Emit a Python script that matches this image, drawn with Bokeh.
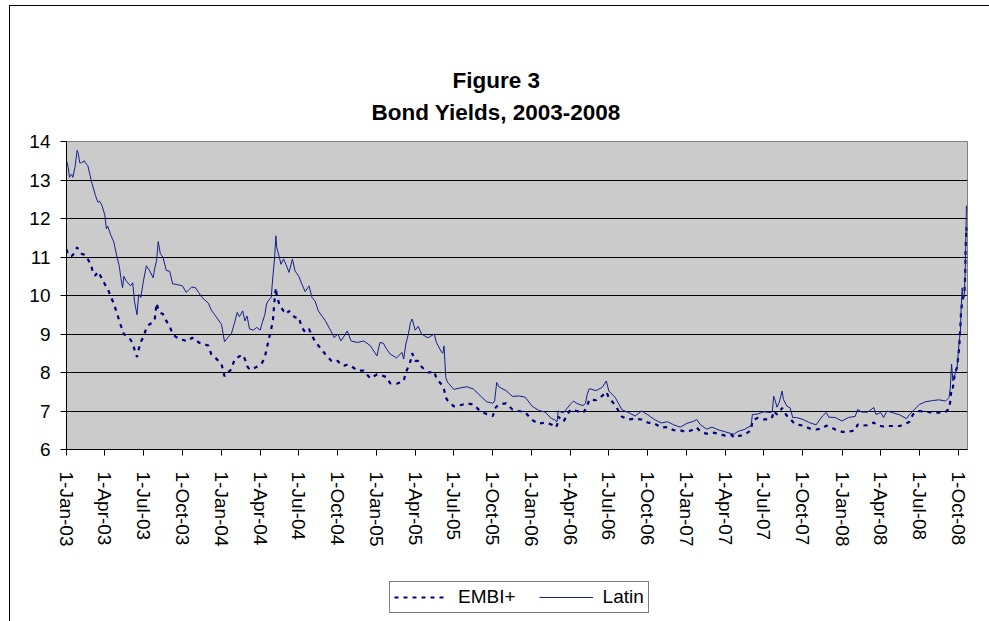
import pandas as pd
from bokeh.plotting import figure
from bokeh.layouts import column
from bokeh.models import (ColumnDataSource, FixedTicker, Legend, LegendItem,
                          Range1d, Title)
from bokeh.embed import file_html
from bokeh.resources import INLINE

# ---- data ----
dates = [
    "2003-01-01", "2003-01-05", "2003-01-08", "2003-01-13", "2003-01-16", "2003-01-21",
    "2003-01-26", "2003-01-29", "2003-02-01", "2003-02-06", "2003-02-12", "2003-02-16",
    "2003-02-20", "2003-02-25", "2003-03-01", "2003-03-05", "2003-03-10", "2003-03-16",
    "2003-03-20", "2003-03-25", "2003-04-01", "2003-04-05", "2003-04-08", "2003-04-16",
    "2003-04-22", "2003-05-01", "2003-05-05", "2003-05-09", "2003-05-13", "2003-05-16",
    "2003-05-22", "2003-06-01", "2003-06-06", "2003-06-10", "2003-06-16", "2003-06-20",
    "2003-06-25", "2003-07-01", "2003-07-08", "2003-07-16", "2003-07-24", "2003-07-28",
    "2003-08-01", "2003-08-05", "2003-08-10", "2003-08-16", "2003-08-24", "2003-09-01",
    "2003-09-08", "2003-09-16", "2003-10-01", "2003-10-10", "2003-10-16", "2003-10-23",
    "2003-11-01", "2003-11-08", "2003-11-16", "2003-12-01", "2003-12-08", "2003-12-16",
    "2004-01-01", "2004-01-08", "2004-01-16", "2004-01-24", "2004-02-01", "2004-02-07",
    "2004-02-12", "2004-02-20", "2004-02-25", "2004-03-01", "2004-03-07", "2004-03-16",
    "2004-03-24", "2004-04-01", "2004-04-06", "2004-04-12", "2004-04-16", "2004-04-20",
    "2004-04-27", "2004-05-01", "2004-05-05", "2004-05-08", "2004-05-10", "2004-05-16",
    "2004-05-20", "2004-05-26", "2004-06-01", "2004-06-08", "2004-06-16", "2004-06-22",
    "2004-07-01", "2004-07-08", "2004-07-16", "2004-07-25", "2004-08-01", "2004-08-08",
    "2004-08-16", "2004-09-01", "2004-09-16", "2004-09-22", "2004-10-01", "2004-10-08",
    "2004-10-16", "2004-10-23", "2004-11-01", "2004-11-16", "2004-12-01", "2004-12-16",
    "2005-01-01", "2005-01-08", "2005-01-16", "2005-01-24", "2005-02-01", "2005-02-16",
    "2005-03-01", "2005-03-05", "2005-03-10", "2005-03-16", "2005-03-21", "2005-03-25",
    "2005-04-01", "2005-04-08", "2005-04-16", "2005-05-01", "2005-05-16", "2005-05-21",
    "2005-06-01", "2005-06-05", "2005-06-08", "2005-06-12", "2005-06-16", "2005-07-01",
    "2005-07-16", "2005-08-01", "2005-08-16", "2005-09-01", "2005-09-16", "2005-10-01",
    "2005-10-05", "2005-10-10", "2005-10-16", "2005-11-01", "2005-11-16", "2005-12-01",
    "2005-12-16", "2006-01-01", "2006-01-16", "2006-02-01", "2006-02-16", "2006-02-22",
    "2006-03-01", "2006-03-04", "2006-03-16", "2006-04-01", "2006-04-09", "2006-04-16",
    "2006-05-01", "2006-05-07", "2006-05-11", "2006-05-16", "2006-06-01", "2006-06-16",
    "2006-06-25", "2006-07-01", "2006-07-16", "2006-08-01", "2006-08-16", "2006-09-01",
    "2006-09-16", "2006-10-01", "2006-10-16", "2006-11-01", "2006-11-16", "2006-12-01",
    "2006-12-16", "2007-01-01", "2007-01-16", "2007-01-24", "2007-02-01", "2007-02-16",
    "2007-03-01", "2007-03-16", "2007-04-01", "2007-04-16", "2007-04-22", "2007-05-01",
    "2007-05-16", "2007-06-01", "2007-06-04", "2007-06-16", "2007-07-01", "2007-07-16",
    "2007-07-21", "2007-07-24", "2007-07-28", "2007-08-01", "2007-08-06", "2007-08-13",
    "2007-08-16", "2007-08-24", "2007-09-01", "2007-09-07", "2007-09-16", "2007-10-01",
    "2007-10-16", "2007-11-01", "2007-11-16", "2007-11-25", "2007-12-01", "2007-12-16",
    "2008-01-01", "2008-01-16", "2008-02-01", "2008-02-07", "2008-02-16", "2008-03-01",
    "2008-03-16", "2008-03-21", "2008-04-01", "2008-04-08", "2008-04-16", "2008-05-01",
    "2008-05-16", "2008-06-01", "2008-06-08", "2008-06-16", "2008-07-01", "2008-07-16",
    "2008-08-01", "2008-08-16", "2008-09-01", "2008-09-09", "2008-09-12", "2008-09-15",
    "2008-09-18", "2008-09-23", "2008-09-28", "2008-10-03", "2008-10-06", "2008-10-07",
    "2008-10-10", "2008-10-12", "2008-10-15", "2008-10-17", "2008-10-18", "2008-10-20",
    "2008-10-21",
]

latin = [
    13.50, 13.33, 13.07, 13.15, 13.07, 13.33,
    13.77, 13.68, 13.45, 13.45, 13.50, 13.42,
    13.38, 13.15, 12.95, 12.80, 12.60, 12.42,
    12.45, 12.35, 12.10, 11.73, 11.80, 11.55,
    11.40, 10.95, 10.78, 10.46, 10.20, 10.50,
    10.37, 10.25, 10.33, 9.85, 9.50, 10.03,
    9.95, 10.37, 10.77, 10.64, 10.46, 10.72,
    10.90, 11.40, 11.08, 11.00, 10.65, 10.63,
    10.30, 10.29, 10.25, 10.08, 10.15, 10.22,
    10.20, 10.08, 9.95, 9.80, 9.62, 9.50,
    9.25, 8.80, 8.91, 9.00, 9.30, 9.56,
    9.45, 9.60, 9.34, 9.47, 9.13, 9.10,
    9.17, 9.10, 9.30, 9.50, 9.78, 9.86,
    9.95, 10.50, 10.98, 11.55, 11.25, 11.00,
    10.81, 10.95, 10.80, 10.60, 10.95, 10.64,
    10.50, 10.30, 10.10, 10.25, 9.95, 9.86,
    9.60, 9.35, 9.05, 8.91, 9.00, 8.82,
    8.95, 9.08, 8.82, 8.78, 8.82, 8.70,
    8.43, 8.78, 8.76, 8.60, 8.48, 8.38,
    8.52, 8.35, 8.74, 9.00, 9.30, 9.39,
    9.10, 9.20, 9.00, 8.90, 9.00, 8.78,
    8.55, 8.50, 8.69, 7.87, 7.75, 7.56,
    7.60, 7.63, 7.57, 7.40, 7.24, 7.20,
    7.26, 7.74, 7.62, 7.53, 7.38, 7.39,
    7.36, 7.13, 7.02, 6.97, 6.80, 6.78,
    6.72, 7.00, 6.95, 7.17, 7.26, 7.20,
    7.14, 7.20, 7.43, 7.58, 7.53, 7.62,
    7.78, 7.52, 7.35, 7.03, 6.96, 6.87,
    7.00, 6.90, 6.78, 6.69, 6.72, 6.64,
    6.58, 6.68, 6.73, 6.78, 6.65, 6.53,
    6.58, 6.51, 6.46, 6.41, 6.40, 6.47,
    6.52, 6.62, 6.91, 6.92, 6.98, 6.96,
    6.98, 7.39, 7.26, 7.10, 7.22, 7.52,
    7.30, 7.13, 7.08, 6.83, 6.83, 6.78,
    6.70, 6.64, 6.87, 6.96, 6.84, 6.83,
    6.74, 6.83, 6.86, 7.04, 6.97, 6.97,
    7.09, 6.91, 6.96, 6.83, 7.00, 6.95,
    6.90, 6.80, 6.91, 7.00, 7.17, 7.24,
    7.27, 7.29, 7.26, 7.35, 7.60, 8.22,
    7.78, 7.95, 8.13, 8.82, 9.08, 9.52,
    10.20, 9.95, 10.03, 10.56, 11.16, 12.33,
    12.20,
]

embi = [
    11.20, 11.05, 11.03, 11.03, 11.05, 11.15,
    11.25, 11.20, 11.15, 11.08, 11.06, 11.03,
    10.95, 10.85, 10.75, 10.55, 10.52, 10.62,
    10.55, 10.45, 10.30, 10.22, 10.18, 9.95,
    9.80, 9.50, 9.35, 9.22, 9.10, 9.00,
    8.95, 8.85, 8.75, 8.60, 8.40, 8.60,
    8.80, 8.92, 9.15, 9.26, 9.30, 9.40,
    9.80, 9.65, 9.55, 9.52, 9.34, 9.20,
    9.00, 8.92, 8.85, 8.82, 8.82, 8.90,
    8.88, 8.78, 8.75, 8.70, 8.47, 8.40,
    8.22, 7.90, 8.00, 8.08, 8.35, 8.38,
    8.42, 8.46, 8.35, 8.17, 8.08, 8.10,
    8.15, 8.20, 8.26, 8.40, 8.60, 8.80,
    9.13, 9.35, 9.90, 10.20, 10.00, 9.78,
    9.69, 9.60, 9.52, 9.60, 9.50, 9.43,
    9.43, 9.17, 9.05, 9.13, 8.95, 8.82,
    8.70, 8.48, 8.30, 8.28, 8.30, 8.20,
    8.18, 8.20, 8.17, 8.05, 8.05, 7.85,
    7.95, 7.93, 7.91, 7.88, 7.72, 7.71,
    7.76, 7.78, 8.00, 8.15, 8.30, 8.50,
    8.30, 8.30, 8.15, 8.00, 8.02, 7.85,
    7.70, 7.65, 7.56, 7.35, 7.28, 7.12,
    7.15, 7.20, 7.17, 7.00, 6.92, 6.87,
    7.05, 7.12, 7.17, 7.20, 7.04, 7.00,
    6.97, 6.77, 6.67, 6.70, 6.65, 6.57,
    6.62, 6.85, 6.72, 7.03, 7.02, 7.00,
    6.95, 7.04, 7.13, 7.30, 7.28, 7.40,
    7.50, 7.35, 7.15, 6.85, 6.78, 6.80,
    6.78, 6.70, 6.68, 6.57, 6.58, 6.50,
    6.50, 6.45, 6.52, 6.57, 6.47, 6.41,
    6.44, 6.41, 6.36, 6.38, 6.31, 6.35,
    6.38, 6.50, 6.75, 6.82, 6.78, 6.78,
    6.85, 7.00, 6.95, 6.91, 6.95, 7.08,
    7.00, 6.88, 6.80, 6.72, 6.65, 6.62,
    6.55, 6.52, 6.55, 6.62, 6.60, 6.52,
    6.46, 6.46, 6.50, 6.65, 6.62, 6.63,
    6.70, 6.65, 6.61, 6.60, 6.61, 6.61,
    6.61, 6.68, 6.72, 6.91, 7.00, 6.98,
    6.96, 6.96, 6.98, 7.05, 7.26, 7.61,
    7.60, 8.00, 8.13, 8.65, 9.26, 9.52,
    9.86, 9.95, 10.00, 10.50, 11.20, 11.77,
    11.68,
]

tick_dates = [
    "2003-01-01", "2003-04-01", "2003-07-01", "2003-10-01",
    "2004-01-01", "2004-04-01", "2004-07-01", "2004-10-01",
    "2005-01-01", "2005-04-01", "2005-07-01", "2005-10-01",
    "2006-01-01", "2006-04-01", "2006-07-01", "2006-10-01",
    "2007-01-01", "2007-04-01", "2007-07-01", "2007-10-01",
    "2008-01-01", "2008-04-01", "2008-07-01", "2008-10-01",
]
tick_labels = [
    "1-Jan-03", "1-Apr-03", "1-Jul-03", "1-Oct-03",
    "1-Jan-04", "1-Apr-04", "1-Jul-04", "1-Oct-04",
    "1-Jan-05", "1-Apr-05", "1-Jul-05", "1-Oct-05",
    "1-Jan-06", "1-Apr-06", "1-Jul-06", "1-Oct-06",
    "1-Jan-07", "1-Apr-07", "1-Jul-07", "1-Oct-07",
    "1-Jan-08", "1-Apr-08", "1-Jul-08", "1-Oct-08",
]
y_ticks = [6, 7, 8, 9, 10, 11, 12, 13, 14]

FONT = "Liberation Sans"
NAVY = "#000080"
LATIN_COLOR = "#14208C"

src = ColumnDataSource(dict(x=pd.to_datetime(dates), latin=latin, embi=embi))

# ---------------- main chart ----------------
p = figure(width=979, height=554, x_axis_type="datetime",
           output_backend="svg", toolbar_location=None,
           x_range=Range1d(pd.Timestamp("2003-01-01"), pd.Timestamp("2008-10-22 12:00")),
           y_range=Range1d(6, 14),
           min_border_left=56, min_border_right=22,
           min_border_top=135, min_border_bottom=111)
p.title.visible = False

p.background_fill_color = "#CBCBCB"
p.border_fill_color = "white"
p.outline_line_color = "#808080"
p.outline_line_width = 1

r_embi = p.line("x", "embi", source=src, line_color=NAVY, line_width=2.2, line_dash="4 5")
r_latin = p.line("x", "latin", source=src, line_color=LATIN_COLOR, line_width=1)

tick_ms = [pd.Timestamp(d).value // 10**6 for d in tick_dates]
p.xaxis.ticker = FixedTicker(ticks=tick_ms)
p.xaxis.major_label_overrides = {t: lab for t, lab in zip(tick_ms, tick_labels)}
p.xaxis.major_label_orientation = "vertical"
p.yaxis.ticker = FixedTicker(ticks=y_ticks)
for ax in (p.xaxis, p.yaxis):
    ax.major_label_text_font = FONT
    ax.major_label_text_font_size = "19px"
    ax.major_label_text_color = "black"
    ax.axis_line_color = "black"
    ax.major_tick_line_color = "black"
    ax.major_tick_out = 6
    ax.major_tick_in = 0
    ax.minor_tick_out = 0
    ax.minor_tick_in = 0
p.yaxis.major_label_standoff = 10
p.xaxis.major_label_standoff = 16

p.xgrid.visible = False
p.ygrid.ticker = FixedTicker(ticks=y_ticks[1:-1])
p.ygrid.grid_line_color = "black"
p.ygrid.grid_line_width = 1

# titles (first added sits closest to the plot)
p.add_layout(Title(text="Bond Yields, 2003-2008", align="left", offset=305,
                   text_font=FONT, text_font_size="22.5px", text_font_style="bold",
                   text_color="black", standoff=34), "above")
p.add_layout(Title(text="Figure 3", align="left", offset=386,
                   text_font=FONT, text_font_size="22.5px", text_font_style="bold",
                   text_color="black", standoff=-24), "above")

# ---------------- legend strip ----------------
# same series drawn into a strip whose ranges keep them out of view;
# only the legend of this strip is visible
q = figure(width=979, height=61, output_backend="svg", toolbar_location=None,
           x_range=Range1d(0, 1), y_range=Range1d(0, 1),
           x_axis_location=None, y_axis_location=None, min_border=0)
q.title.visible = False
q.xgrid.visible = False
q.ygrid.visible = False
q.outline_line_color = None
q.background_fill_color = "white"
q.border_fill_color = "white"
k_embi = q.line("x", "embi", source=src, line_color=NAVY, line_width=2.2, line_dash="4 5")
k_latin = q.line("x", "latin", source=src, line_color=LATIN_COLOR, line_width=1)

legend = Legend(items=[LegendItem(label="EMBI+", renderers=[k_embi]),
                       LegendItem(label="Latin", renderers=[k_latin])],
                orientation="horizontal", location=(323, 8))
legend.label_text_font = FONT
legend.label_text_font_size = "19px"
legend.label_text_color = "black"
legend.border_line_color = "black"
legend.border_line_width = 1
legend.background_fill_color = "white"
legend.background_fill_alpha = 1
legend.glyph_width = 54
legend.glyph_height = 18
legend.label_height = 18
legend.label_standoff = 10
legend.spacing = 23
legend.padding = 4
legend.margin = 0
q.add_layout(legend)

layout = column(p, q, spacing=0,
                styles={"margin-left": "9px", "margin-top": "5px",
                        "border-left": "1px solid black", "border-top": "1px solid black"})

open("out.html", "w").write(file_html(layout, INLINE))
